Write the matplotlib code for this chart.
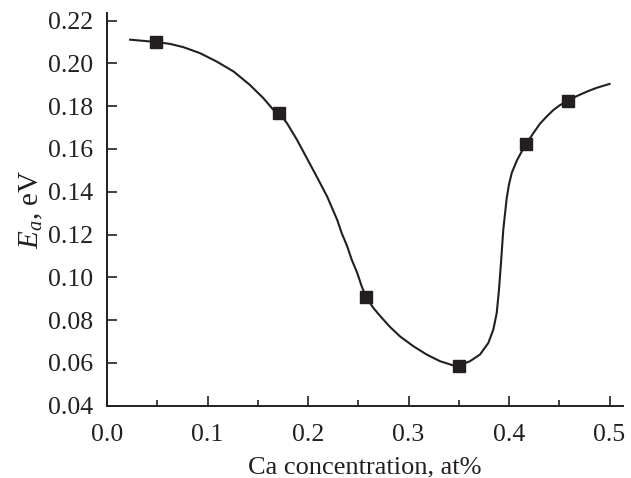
import matplotlib
matplotlib.use('Agg')
import matplotlib.pyplot as plt
from matplotlib.ticker import MultipleLocator

plt.rcParams['font.family'] = ['Liberation Serif', 'DejaVu Serif']
plt.rcParams['mathtext.fontset'] = 'custom'
plt.rcParams['mathtext.rm'] = 'Liberation Serif'
plt.rcParams['mathtext.it'] = 'Liberation Serif:italic'

# measured points
ca = [0.049, 0.171, 0.258, 0.350, 0.417, 0.459]
ea = [0.210, 0.177, 0.0906, 0.0587, 0.1623, 0.1822]

# fitted curve
curve_x = [0.023, 0.049, 0.063, 0.076, 0.0925, 0.109, 0.126, 0.142, 0.1555,
           0.1655, 0.171, 0.179, 0.189, 0.197, 0.205, 0.212, 0.219, 0.229,
           0.2335, 0.239, 0.2435, 0.249, 0.2534, 0.258, 0.265, 0.272, 0.2816,
           0.2915, 0.3048, 0.3181, 0.3313, 0.3446, 0.350, 0.3612, 0.3711,
           0.3794, 0.3844, 0.3878, 0.390, 0.392, 0.3943, 0.3977, 0.400,
           0.4027, 0.4077, 0.4126, 0.417, 0.4242, 0.4308, 0.4375, 0.4441,
           0.4507, 0.459, 0.4674, 0.4773, 0.4873, 0.500]
curve_y = [0.2111, 0.2100, 0.2091, 0.2076, 0.2048, 0.2009, 0.1962, 0.1900,
           0.1838, 0.1783, 0.1770, 0.1721, 0.1643, 0.1573, 0.1503, 0.1441,
           0.1378, 0.1269, 0.1207, 0.1145, 0.1082, 0.1020, 0.0958, 0.0906,
           0.0857, 0.0818, 0.0768, 0.0724, 0.0678, 0.0639, 0.0608, 0.0588,
           0.0587, 0.0608, 0.0639, 0.0693, 0.0756, 0.0834, 0.0942, 0.1067,
           0.1223, 0.1370, 0.1435, 0.1488, 0.1545, 0.1588, 0.1623, 0.1674,
           0.1718, 0.1752, 0.1782, 0.1805, 0.1826, 0.1847, 0.1868, 0.1886,
           0.1904]

ink = '#231f20'

fig = plt.figure(figsize=(6.31, 4.78), dpi=100)
ax = fig.add_axes([0.1696, 0.1513, 0.8177, 0.8221])

ax.plot(curve_x, curve_y, color=ink, lw=1.5, solid_joinstyle='round')
ax.plot(ca, ea, 's', color=ink, ms=8.5)

ax.set_xlim(0, 0.5134)
ax.set_ylim(0.04, 0.2237)
ax.xaxis.set_major_locator(MultipleLocator(0.1))
ax.xaxis.set_minor_locator(MultipleLocator(0.05))
ax.yaxis.set_major_locator(MultipleLocator(0.02))
ax.xaxis.set_major_formatter(plt.FormatStrFormatter('%.1f'))
ax.yaxis.set_major_formatter(plt.FormatStrFormatter('%.2f'))

for s in ['top', 'right']:
    ax.spines[s].set_visible(False)
for s in ['left', 'bottom']:
    ax.spines[s].set_linewidth(1.4)
    ax.spines[s].set_color(ink)

ax.tick_params(which='major', direction='in', length=7, width=1.2,
               colors=ink, labelsize=18.5)
ax.tick_params(axis='x', which='major', pad=13)
ax.tick_params(axis='y', which='major', pad=10)
ax.tick_params(which='minor', direction='in', length=4.5, width=1.2,
               colors=ink)

ax.set_xlabel('Ca concentration, at%', fontsize=19, color=ink, labelpad=8)
ax.set_ylabel(r'$E_a$, eV', fontsize=21, color=ink, labelpad=2)

fig.savefig('out.png', dpi=100)
